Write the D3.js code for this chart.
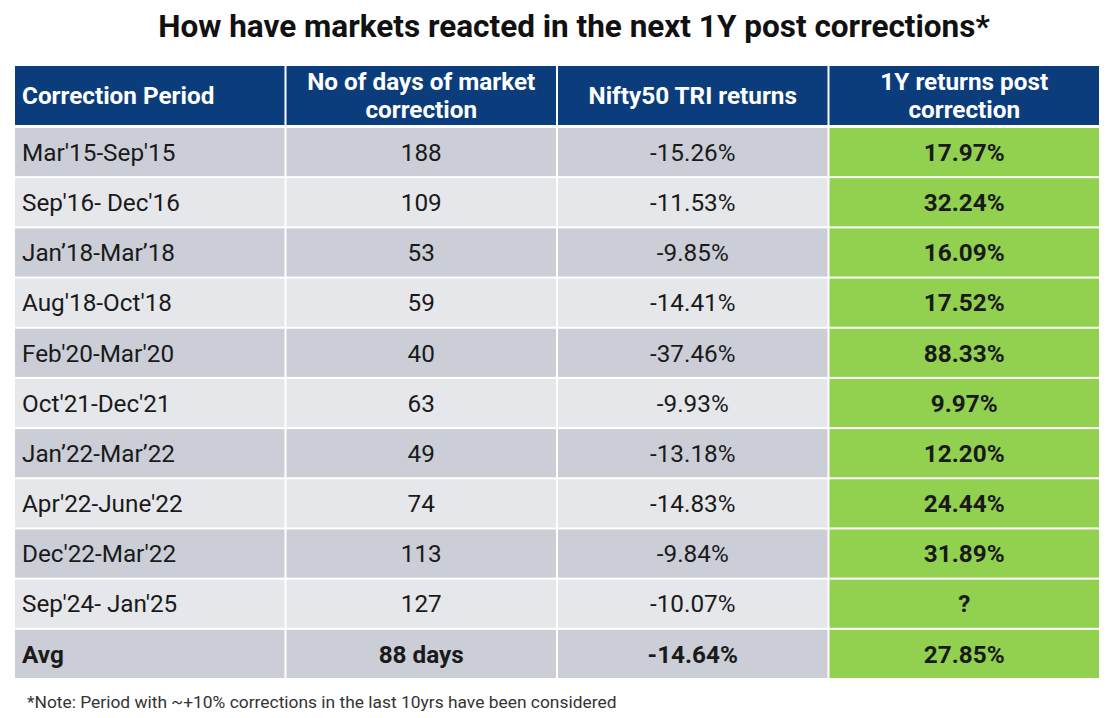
<!DOCTYPE html>
<html><head><meta charset="utf-8">
<script src="https://cdn.jsdelivr.net/npm/d3@7"></script>
<style>body{margin:0;background:#fff;}svg{display:block;}text{font-family:Roboto,"Noto Sans",sans-serif;}</style>
</head><body>
<svg id="c" width="1115" height="718"></svg>
<script>
const title = "How have markets reacted in the next 1Y post corrections*";
const headers = [["Correction Period"], ["No of days of market", "correction"], ["Nifty50 TRI returns"], ["1Y returns post", "correction"]];
const periods = ["Mar'15-Sep'15", "Sep'16- Dec'16", "Jan\u201918-Mar\u201918", "Aug'18-Oct'18", "Feb'20-Mar'20", "Oct'21-Dec'21", "Jan\u201922-Mar\u201922", "Apr'22-June'22", "Dec'22-Mar'22", "Sep'24- Jan'25"];
const days = [188, 109, 53, 59, 40, 63, 49, 74, 113, 127];
const niftyReturns = [-15.26, -11.53, -9.85, -14.41, -37.46, -9.93, -13.18, -14.83, -9.84, -10.07];
const postReturns = [17.97, 32.24, 16.09, 17.52, 88.33, 9.97, 12.20, 24.44, 31.89, null];
const avgLabel = "Avg";
const avgDays = 88;
const avgNifty = -14.64;
const avgPost = 27.85;
const note = "*Note: Period with ~+10% corrections in the last 10yrs have been considered";

const svg = d3.select("#c");
const pct = v => v == null ? "?" : v.toFixed(2) + "%";

const rows = periods.map((p, i) => ({label: p, cells: [p, String(days[i]), pct(niftyReturns[i]), pct(postReturns[i])], avg: false}));
rows.push({label: avgLabel, cells: [avgLabel, avgDays + " days", pct(avgNifty), pct(avgPost)], avg: true});

const cols = d3.range(4);
const x = d3.scaleBand().domain(cols).range([15, 1099]).paddingInner(2 / 271);
const y = d3.scaleBand().domain(rows.map((r, i) => i)).range([128, 678]).paddingInner(0.04);
const FS = 24.3;

// title
svg.append("text").attr("x", 574).attr("y", 36.5).attr("text-anchor", "middle")
  .attr("font-size", 31.5).attr("font-weight", 700).attr("fill", "#111").text(title);

// header
const hTop = 66, hBot = 125;
const hg = svg.append("g");
hg.selectAll("rect").data(cols).join("rect")
  .attr("x", d => x(d)).attr("y", hTop).attr("width", x.bandwidth()).attr("height", hBot - hTop)
  .attr("fill", "#0b3d7c");
headers.forEach((lines, c) => {
  const t = hg.append("text").attr("fill", "#fff").attr("font-weight", 700).attr("font-size", FS)
    .attr("text-anchor", c === 0 ? "start" : "middle");
  const mid = (hTop + hBot) / 2;
  lines.forEach((ln, k) => {
    const yy = mid + 8.7 + (k - (lines.length - 1) / 2) * 28;
    t.append("tspan").attr("x", c === 0 ? x(c) + 7 : x(c) + x.bandwidth() / 2).attr("y", yy).text(ln);
  });
});

// body
const rowFill = (r, i) => r.avg || i % 2 === 0 ? "#cbced6" : "#e6e7eb";
const g = svg.append("g");
rows.forEach((r, i) => {
  cols.forEach(c => {
    g.append("rect").attr("x", x(c)).attr("y", y(i)).attr("width", x.bandwidth()).attr("height", y.bandwidth())
      .attr("fill", c === 3 ? "#92d050" : rowFill(r, i));
    const bold = r.avg || c === 3;
    g.append("text")
      .attr("x", c === 0 ? x(c) + 7 : x(c) + x.bandwidth() / 2)
      .attr("y", y(i) + y.bandwidth() / 2 + 8.7)
      .attr("text-anchor", c === 0 ? "start" : "middle")
      .attr("font-size", FS).attr("font-weight", bold ? 700 : 400)
      .attr("fill", "#1a1a1a").text(r.cells[c]);
  });
});

svg.append("text").attr("x", 27).attr("y", 708).attr("font-size", 17.4).attr("fill", "#333").text(note);
</script>
</body></html>
